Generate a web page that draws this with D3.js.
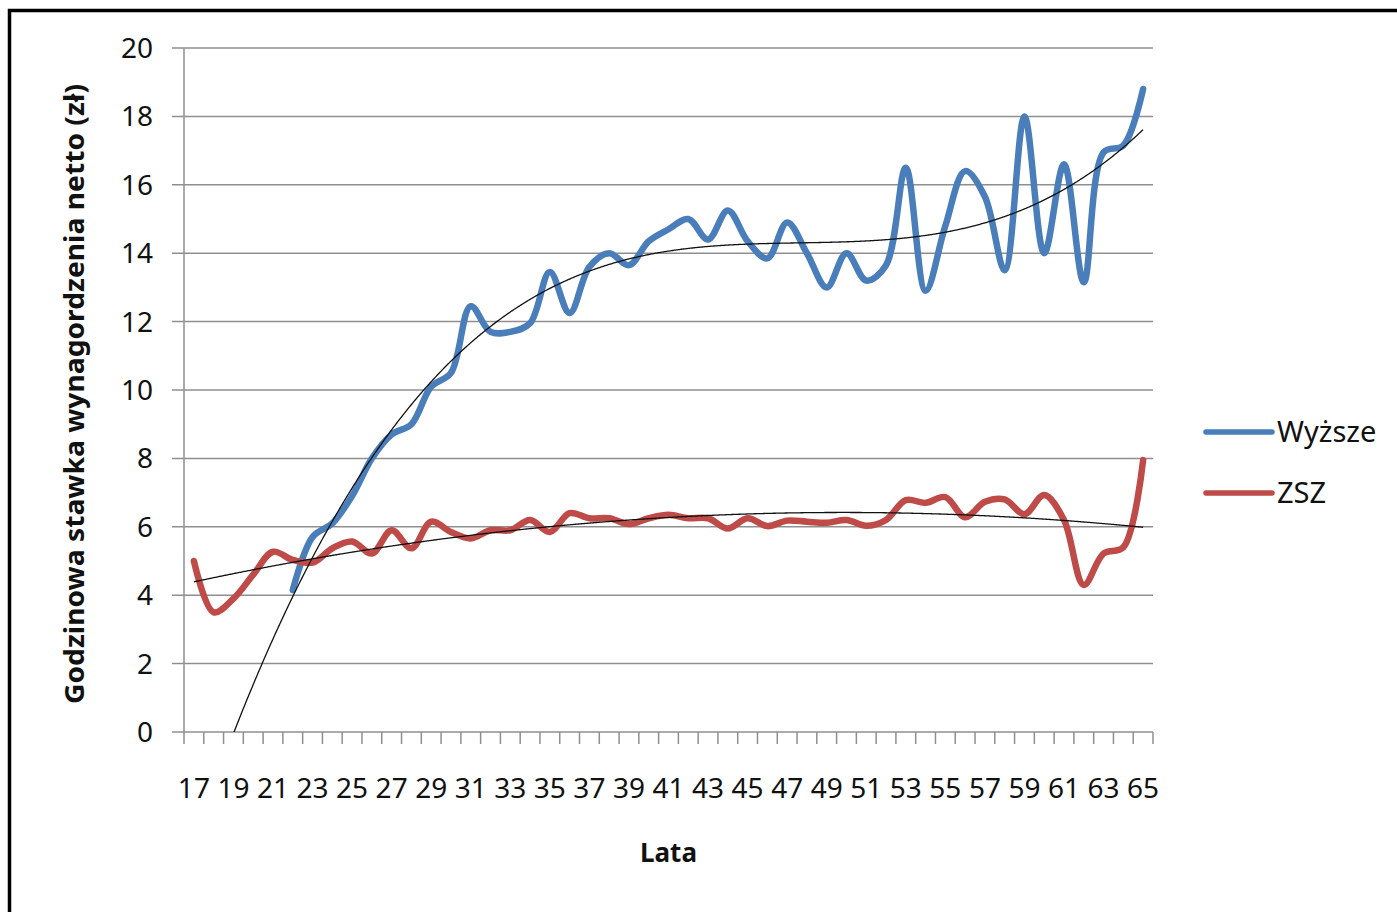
<!DOCTYPE html>
<meta charset="utf-8">
<style>
body { margin: 0; background: #fff; }
text { font-family: "Noto Sans", "Open Sans", sans-serif; fill: #111; }
.tick-label { font-size: 28px; }
.axis-title { font-size: 26px; font-weight: bold; }
.legend-label { font-size: 29px; }
</style>
<svg width="1397" height="912"></svg>
<script src="https://d3js.org/d3.v7.min.js"></script>
<script>

// ages 17..65
var ages = d3.range(17, 66);

// Wyższe: no values before age 22
var wyzsze = [null, null, null, null, null,
  4.15, 5.7, 6.1, 6.9, 8.0, 8.7, 9.0, 10.1, 10.5, 12.45,
  11.7, 11.7, 11.95, 13.45, 12.25, 13.6, 14.0, 13.65, 14.35, 14.7,
  15.0, 14.4, 15.25, 14.35, 13.85, 14.9, 14.0, 13.0, 14.0, 13.2,
  13.65, 16.5, 12.9, 14.8, 16.4, 15.65, 13.5, 18.0, 14.0, 16.6,
  13.15, 16.95, 17.15, 18.8];

var zsz = [5.0, 3.5, 3.9, 4.6, 5.27, 5.03, 4.95, 5.37, 5.57, 5.22,
  5.9, 5.37, 6.15, 5.85, 5.66, 5.9, 5.9, 6.2, 5.85, 6.4,
  6.25, 6.25, 6.08, 6.25, 6.35, 6.25, 6.25, 5.95, 6.25, 6.02,
  6.18, 6.15, 6.12, 6.2, 6.03, 6.2, 6.78, 6.7, 6.87, 6.28,
  6.73, 6.8, 6.37, 6.93, 6.2, 4.3, 5.22, 5.4, 7.95];

var yTicks = d3.range(0, 21, 2);

var series = [
  {name: "Wyższe", values: wyzsze, color: "#4a7ebb", order: 3},
  {name: "ZSZ", values: zsz, color: "#be4b48", order: 2}
];

var svg = d3.select("svg");

var pLeft = 184, pRight = 1153, pTop = 48, pBottom = 732;

var x = d3.scaleBand().domain(ages).range([pLeft, pRight]).padding(0);
var bw = x.bandwidth();
var cx = function(a) { return x(a) + bw / 2; };
// continuous version for the trendlines
var xl = d3.scaleLinear().domain([17, 65]).range([cx(17), cx(65)]);
var y = d3.scaleLinear().domain([0, 20]).range([pBottom, pTop]);

// outer frame
svg.append("rect")
    .attr("x", 9.5).attr("y", 10.5)
    .attr("width", 1420).attr("height", 940)
    .attr("fill", "none").attr("stroke", "#000").attr("stroke-width", 3.5);

// gridlines + y ticks
svg.append("g").selectAll("line")
  .data(yTicks)
  .enter().append("line")
    .attr("x1", pLeft - 12).attr("x2", pRight)
    .attr("y1", function(d) { return y(d); })
    .attr("y2", function(d) { return y(d); })
    .attr("stroke", "#8f8f8f").attr("stroke-width", 1.5);

svg.append("g").selectAll("text")
  .data(yTicks)
  .enter().append("text")
    .attr("class", "tick-label")
    .attr("x", 153)
    .attr("y", function(d) { return y(d) + 10; })
    .attr("text-anchor", "end")
    .text(function(d) { return d; });

// y axis line
svg.append("line")
    .attr("x1", pLeft).attr("x2", pLeft)
    .attr("y1", pTop).attr("y2", pBottom)
    .attr("stroke", "#8f8f8f").attr("stroke-width", 1.5);

// x ticks at category boundaries
var bounds = ages.map(function(a) { return x(a); }).concat([pRight]);
svg.append("g").selectAll("line")
  .data(bounds)
  .enter().append("line")
    .attr("x1", function(d) { return d; }).attr("x2", function(d) { return d; })
    .attr("y1", pBottom).attr("y2", pBottom + 12)
    .attr("stroke", "#8f8f8f").attr("stroke-width", 1.5);

svg.append("g").selectAll("text")
  .data(ages.filter(function(a, i) { return i % 2 === 0; }))
  .enter().append("text")
    .attr("class", "tick-label")
    .attr("x", function(d) { return cx(d); })
    .attr("y", 798)
    .attr("text-anchor", "middle")
    .text(function(d) { return d; });

// axis titles
svg.append("text")
    .attr("class", "axis-title")
    .attr("transform", "translate(84," + ((pTop + pBottom) / 2 + 4) + ") rotate(-90)")
    .attr("text-anchor", "middle")
    .attr("textLength", 620)
    .attr("lengthAdjust", "spacingAndGlyphs")
    .text("Godzinowa stawka wynagordzenia netto (zł)");

svg.append("text")
    .attr("class", "axis-title")
    .attr("x", (pLeft + pRight) / 2)
    .attr("y", 862)
    .attr("text-anchor", "middle")
    .text("Lata");

svg.append("clipPath").attr("id", "plot")
  .append("rect")
    .attr("x", pLeft).attr("y", pTop)
    .attr("width", pRight - pLeft).attr("height", pBottom - pTop);

// least squares polynomial, x normalised for stability
function polyfit(xs, ys, order) {
  var n = order + 1, A = [], b = [];
  for (var i = 0; i < n; i++) { A.push(new Array(n).fill(0)); b.push(0); }
  xs.forEach(function(xv, k) {
    for (var i = 0; i < n; i++) {
      b[i] += ys[k] * Math.pow(xv, i);
      for (var j = 0; j < n; j++) A[i][j] += Math.pow(xv, i + j);
    }
  });
  for (var c = 0; c < n; c++) {
    var p = c;
    for (var r = c + 1; r < n; r++) if (Math.abs(A[r][c]) > Math.abs(A[p][c])) p = r;
    var t = A[c]; A[c] = A[p]; A[p] = t; t = b[c]; b[c] = b[p]; b[p] = t;
    for (var r2 = c + 1; r2 < n; r2++) {
      var f = A[r2][c] / A[c][c];
      for (var j2 = c; j2 < n; j2++) A[r2][j2] -= f * A[c][j2];
      b[r2] -= f * b[c];
    }
  }
  var coef = new Array(n).fill(0);
  for (var r3 = n - 1; r3 >= 0; r3--) {
    var s = b[r3];
    for (var j3 = r3 + 1; j3 < n; j3++) s -= A[r3][j3] * coef[j3];
    coef[r3] = s / A[r3][r3];
  }
  return function(xv) {
    return coef.reduce(function(acc, c, i) { return acc + c * Math.pow(xv, i); }, 0);
  };
}

var norm = function(a) { return (a - 41) / 24; };

var line = d3.line()
    .defined(function(d) { return d.v != null; })
    .x(function(d) { return cx(d.a); })
    .y(function(d) { return y(d.v); })
    .curve(d3.curveCatmullRom.alpha(0.5));

var trendLine = d3.line()
    .x(function(d) { return xl(d.a); })
    .y(function(d) { return y(d.v); });

var fine = d3.range(0, 48 * 20 + 1).map(function(k) { return 17 + k / 20; });

series.forEach(function(s) {
  var pts = ages.map(function(a, i) { return {a: a, v: s.values[i]}; });
  svg.append("path")
      .datum(pts)
      .attr("d", line)
      .attr("fill", "none")
      .attr("stroke", s.color)
      .attr("stroke-width", 6.5)
      .attr("stroke-linejoin", "round")
      .attr("stroke-linecap", "round");
});

series.forEach(function(s) {
  var known = ages.map(function(a, i) { return {a: a, v: s.values[i]}; })
    .filter(function(d) { return d.v != null; });
  var fit = polyfit(known.map(function(d) { return norm(d.a); }),
                    known.map(function(d) { return d.v; }), s.order);
  var tpts = fine.map(function(a) { return {a: a, v: fit(norm(a))}; });
  svg.append("path")
      .datum(tpts)
      .attr("clip-path", "url(#plot)")
      .attr("d", trendLine)
      .attr("fill", "none")
      .attr("stroke", "#111")
      .attr("stroke-width", 1.3);
});

// legend
var legend = svg.append("g").selectAll("g")
  .data(series)
  .enter().append("g")
    .attr("transform", function(d, i) { return "translate(1206," + (432 + i * 61) + ")"; });

legend.append("line")
    .attr("x1", 0).attr("x2", 66)
    .attr("stroke", function(d) { return d.color; })
    .attr("stroke-width", 5.5)
    .attr("stroke-linecap", "round");

legend.append("text")
    .attr("class", "legend-label")
    .attr("x", 71)
    .attr("y", 10)
    .text(function(d) { return d.name; });

</script>
